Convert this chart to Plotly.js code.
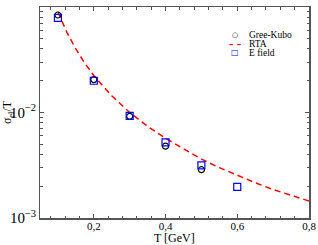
<!DOCTYPE html>
<html>
<head>
<meta charset="utf-8">
<script src="https://cdn.plot.ly/plotly-3.0.1.min.js"></script>
<style>html,body{margin:0;padding:0;background:#fff}#chart{width:318px;height:245px}</style>
</head>
<body>
<div id="chart"></div>
<script>
// Green-Kubo results
const gkT = [0.1, 0.2, 0.3, 0.4, 0.5];
const gkSigma = [0.084, 0.0205, 0.0092, 0.0048, 0.00287];
// E field results
const efT = [0.1, 0.2, 0.3, 0.4, 0.5, 0.6];
const efSigma = [0.079, 0.0200, 0.0093, 0.0052, 0.00316, 0.00197];
// RTA curve
const rtaT = [0.1, 0.125, 0.15, 0.175, 0.2, 0.25, 0.3, 0.35, 0.4, 0.45, 0.5, 0.55, 0.6, 0.65, 0.7, 0.75, 0.8];
const rtaSigma = [0.0896, 0.0575, 0.040, 0.0293, 0.0224, 0.0144, 0.0100, 0.0074, 0.0057, 0.0045, 0.00362, 0.0030, 0.00254, 0.00216, 0.00186, 0.00163, 0.00145];
const xTicks = [0.2, 0.4, 0.6, 0.8];
const legendNames = ["Gree-Kubo", "RTA", "E field"];

const serif = "Liberation Serif, Times New Roman, serif";
const traces = [
  {x: rtaT, y: rtaSigma, type: "scatter", mode: "lines", name: legendNames[1],
   line: {color: "#ff0000", width: 1.5, dash: "6px,4px"}, showlegend: false},
  {x: gkT, y: gkSigma, type: "scatter", mode: "markers", name: legendNames[0],
   marker: {symbol: "circle-open", size: 6, color: "#000000", line: {width: 1.2, color: "#000000"}}, showlegend: false},
  {x: efT, y: efSigma, type: "scatter", mode: "markers", name: legendNames[2],
   marker: {symbol: "square-open", size: 7, color: "#0000ff", line: {width: 1.2, color: "#0000ff"}}, showlegend: false}
];

const legY = [0.866, 0.824, 0.782];
const annotations = [
  {xref: "paper", yref: "paper", x: 0.726, y: legY[0], text: "<b>○</b>", showarrow: false, font: {family: "DejaVu Sans", size: 7, color: "#000"}, xanchor: "center", yanchor: "middle", borderpad: 0},
  {xref: "paper", yref: "paper", x: 0.726, y: legY[1], text: "<b>– –</b>", showarrow: false, font: {family: "DejaVu Sans", size: 9, color: "#ff0000"}, xanchor: "center", yanchor: "middle", borderpad: 0},
  {xref: "paper", yref: "paper", x: 0.726, y: legY[2], text: "<b>□</b>", showarrow: false, font: {family: "DejaVu Sans", size: 8, color: "#0000ff"}, xanchor: "center", yanchor: "middle", borderpad: 0}
];
legendNames.forEach((n, i) => annotations.push({
  xref: "paper", yref: "paper", x: 0.775, y: legY[i], text: n, showarrow: false, borderpad: 0,
  font: {family: serif, size: 9.5, color: "#000"}, xanchor: "left", yanchor: "middle"
}));
// x-axis title, placed below the tick labels
annotations.push({xref: "paper", yref: "paper", x: 0.5, y: 0, yanchor: "top", yshift: -12, showarrow: false,
  text: "T [GeV]", font: {family: serif, size: 12, color: "#000"}, borderpad: 0});

const layout = {
  width: 318, height: 245,
  margin: {l: 40, r: 9, t: 7, b: 27},
  paper_bgcolor: "#fff", plot_bgcolor: "#fff",
  separators: ",.",
  showlegend: false,
  font: {family: serif, size: 12, color: "#000"},
  xaxis: {
    range: [0.05, 0.8], tickvals: xTicks, ticktext: xTicks.map(v => v.toFixed(1).replace(".", ",")),
    ticks: "inside", ticklen: 4, tickcolor: "#555", tickwidth: 1,
    showline: true, linecolor: "#555", linewidth: 1.5, mirror: "ticks",
    showgrid: false, zeroline: false, ticklabelstandoff: -3,
    minor: {tick0: 0, dtick: 0.04, ticks: "inside", ticklen: 2.5, tickcolor: "#555", showgrid: false},
    tickfont: {family: serif, size: 11}
  },
  yaxis: {
    type: "log", range: [-3, -1], dtick: 1, exponentformat: "power",
    ticks: "inside", ticklen: 4, tickcolor: "#555", tickwidth: 1,
    showline: true, linecolor: "#555", linewidth: 1.5, mirror: "ticks",
    showgrid: false, zeroline: false,
    minor: {ticks: "inside", ticklen: 2.5, tickcolor: "#555", dtick: "D1", showgrid: false},
    tickfont: {family: serif, size: 12},
    title: {text: "σ<sub>el</sub>/T", font: {family: serif, size: 12}, standoff: 0}
  },
  annotations: annotations
};

Plotly.newPlot("chart", traces, layout, {displayModeBar: false, staticPlot: true});
</script>
</body>
</html>
